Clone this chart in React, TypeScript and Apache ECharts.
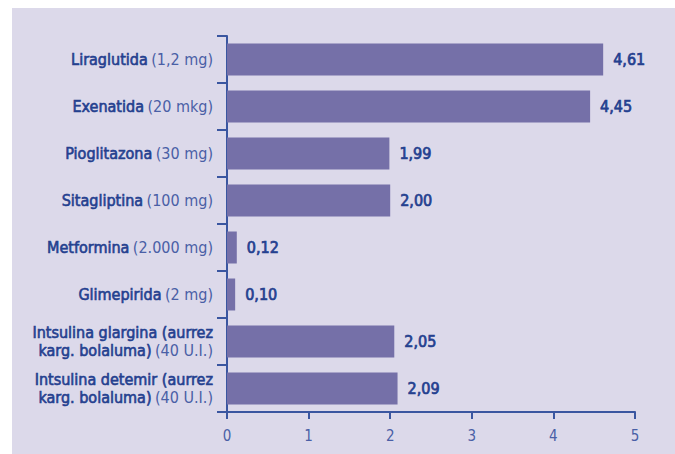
import React, { useEffect, useRef } from "react";
import * as echarts from "echarts";

const drugNames = [
  "Liraglutida",
  "Exenatida",
  "Pioglitazona",
  "Sitagliptina",
  "Metformina",
  "Glimepirida",
  "Intsulina glargina (aurrez\nkarg. bolaluma)",
  "Intsulina detemir (aurrez\nkarg. bolaluma)",
];
const doses = ["(1,2 mg)", "(20 mkg)", "(30 mg)", "(100 mg)", "(2.000 mg)", "(2 mg)", "(40 U.I.)", "(40 U.I.)"];
const values = [4.61, 4.45, 1.99, 2.0, 0.12, 0.1, 2.05, 2.09];
const xTicks = [0, 1, 2, 3, 4, 5];

const categories = drugNames.map((n, i) => `${i}`);

const FONT = "'DejaVu Sans Condensed', 'Noto Sans', sans-serif";
const BLUE = "#24408f";
const LIGHTBLUE = "#4a5fa6";
const AXIS = "#3a56a0";

export default function App() {
  const ref = useRef<HTMLDivElement>(null);
  useEffect(() => {
    if (!ref.current) return;
    const chart = echarts.init(ref.current, undefined, { renderer: "svg" });
    chart.setOption({
      animation: false,
      backgroundColor: "#ffffff",
      textStyle: { fontFamily: FONT },
      graphic: [
        {
          type: "rect",
          z: -10,
          silent: true,
          shape: { x: 12, y: 8, width: 663, height: 446 },
          style: { fill: "#dcd9ea" },
        },
      ],
      grid: { left: 227, right: 40, top: 36, bottom: 42, containLabel: false },
      xAxis: {
        type: "value",
        min: 0,
        max: 5,
        interval: 1,
        splitLine: { show: false },
        axisLine: { show: true, lineStyle: { color: AXIS, width: 2 } },
        axisTick: { show: true, inside: false, length: 7, lineStyle: { color: AXIS, width: 2 } },
        axisLabel: {
          color: LIGHTBLUE,
          fontFamily: FONT,
          fontSize: 15,
          margin: 16,
          formatter: (v: number) => (xTicks.includes(v) ? String(v) : ""),
        },
      },
      yAxis: {
        type: "category",
        inverse: true,
        data: categories,
        axisLine: { show: true, lineStyle: { color: AXIS, width: 2 } },
        axisTick: { show: true, length: 10, lineStyle: { color: AXIS, width: 2 } },
        axisLabel: {
          margin: 14,
          align: "right",
          fontFamily: FONT,
          formatter: (v: string) => {
            const i = Number(v);
            const lines = drugNames[i].split("\n");
            const last = lines.pop() as string;
            const pre = lines.map((l) => `{b|${l}}`).join("\n");
            return (pre ? pre + "\n" : "") + `{b|${last}} {l|${doses[i]}}`;
          },
          rich: {
            b: {
              color: BLUE,
              fontSize: 16,
              fontWeight: "normal",
              fontFamily: FONT,
              lineHeight: 18,
              textBorderColor: BLUE,
              textBorderWidth: 0.6,
            },
            l: { color: LIGHTBLUE, fontSize: 16, fontWeight: "normal", fontFamily: FONT, lineHeight: 18 },
          },
        },
      },
      series: [
        {
          type: "bar",
          data: values,
          barWidth: 32,
          itemStyle: { color: "#7570a8" },
          label: {
            show: true,
            position: "right",
            distance: 10,
            color: BLUE,
            fontFamily: FONT,
            fontSize: 16,
            fontWeight: "normal",
            textBorderColor: BLUE,
            textBorderWidth: 0.7,
            formatter: (p: any) => values[p.dataIndex].toFixed(2).replace(".", ","),
          },
        },
      ],
    });
    return () => chart.dispose();
  }, []);
  return (
    <div style={{ position: "fixed", left: 0, top: 0, width: 675, height: 454 }}>
      <div ref={ref} style={{ width: 675, height: 454 }} />
    </div>
  );
}
